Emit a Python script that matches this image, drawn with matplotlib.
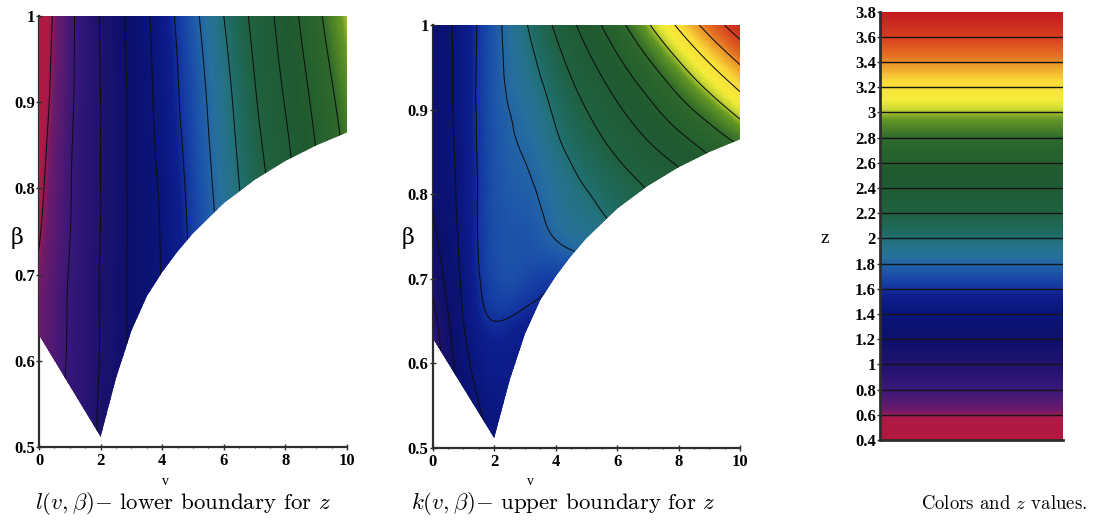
import numpy as np
import matplotlib
matplotlib.use("Agg")
import matplotlib.pyplot as plt
import matplotlib.tri as mtri
from matplotlib.colors import LinearSegmentedColormap, Normalize
from matplotlib.patches import Polygon
from matplotlib.cm import ScalarMappable
from matplotlib.lines import Line2D
from matplotlib.ticker import FuncFormatter, MultipleLocator
from matplotlib.font_manager import FontProperties

plt.rcParams["mathtext.fontset"] = "cm"

# ---------------- data ----------------
v_vals = [0, 1, 2, 3, 4, 5, 6, 7, 8, 9, 10]

# l(v, beta): lower boundary for z
beta_l = [0.5, 0.6, 0.7, 0.8, 0.9, 1.0]
z_lower = [
    [0.68, 0.84, 1.02, 1.23, 1.40, 1.58, 1.77, 1.96, 2.15, 2.35, 2.55],
    [0.66, 0.82, 1.01, 1.23, 1.41, 1.60, 1.80, 2.00, 2.20, 2.42, 2.64],
    [0.62, 0.81, 1.01, 1.23, 1.41, 1.63, 1.83, 2.05, 2.27, 2.50, 2.72],
    [0.56, 0.79, 1.00, 1.23, 1.43, 1.66, 1.88, 2.11, 2.33, 2.57, 2.80],
    [0.51, 0.77, 1.00, 1.235, 1.47, 1.70, 1.93, 2.18, 2.41, 2.65, 2.89],
    [0.47, 0.76, 1.01, 1.25, 1.50, 1.75, 2.00, 2.25, 2.49, 2.75, 3.00],
]

# k(v, beta): upper boundary for z
beta_k = [0.50, 0.55, 0.60, 0.65, 0.70, 0.75, 0.80, 0.85, 0.90, 0.95, 1.00]
z_upper = [
    [0.72, 1.18, 1.38, 1.36, 1.36, 1.42, 1.52, 1.62, 1.72, 1.82, 1.92],
    [0.78, 1.25, 1.46, 1.44, 1.42, 1.45, 1.56, 1.66, 1.76, 1.86, 1.96],
    [0.84, 1.33, 1.52, 1.50, 1.48, 1.50, 1.60, 1.70, 1.80, 1.90, 2.00],
    [0.92, 1.40, 1.60, 1.56, 1.54, 1.56, 1.65, 1.75, 1.85, 1.95, 2.05],
    [1.06, 1.44, 1.68, 1.68, 1.64, 1.70, 1.80, 1.88, 1.96, 2.04, 2.12],
    [1.16, 1.46, 1.70, 1.73, 1.81, 1.89, 1.98, 2.06, 2.14, 2.22, 2.30],
    [1.22, 1.47, 1.71, 1.77, 1.88, 1.99, 2.09, 2.19, 2.29, 2.40, 2.50],
    [1.24, 1.48, 1.72, 1.81, 1.95, 2.09, 2.22, 2.35, 2.48, 2.62, 2.76],
    [1.25, 1.49, 1.73, 1.86, 2.03, 2.20, 2.37, 2.54, 2.72, 2.89, 3.07],
    [1.25, 1.49, 1.74, 1.92, 2.12, 2.33, 2.54, 2.75, 2.96, 3.17, 3.38],
    [1.25, 1.49, 1.74, 1.98, 2.23, 2.48, 2.73, 2.98, 3.23, 3.48, 3.72],
]

# lower edge of the admissible (v, beta) region
bound_v = [0, 2.0, 2.5, 3.0, 3.5, 4.0, 4.5, 5.0, 6.0, 7.0, 8.0, 9.0, 10.0]
bound_beta = [0.63, 0.512, 0.58, 0.635, 0.675, 0.703, 0.727, 0.748, 0.783, 0.81, 0.832, 0.85, 0.865]

contour_levels = [0.6, 0.8, 1.0, 1.2, 1.4, 1.6, 1.8, 2.0, 2.2, 2.4, 2.6, 2.8, 3.0, 3.2, 3.4, 3.6]
cbar_ticks = [0.4, 0.6, 0.8, 1.0, 1.2, 1.4, 1.6, 1.8, 2.0, 2.2, 2.4, 2.6, 2.8, 3.0, 3.2, 3.4, 3.6, 3.8]
x_ticks = [0, 2, 4, 6, 8, 10]
y_ticks = [0.5, 0.6, 0.7, 0.8, 0.9, 1.0]

# colour scale: z value -> colour
cmap_z = [0.40, 0.57, 0.64, 0.72, 0.80, 1.00, 1.20, 1.40, 1.55, 1.63, 1.75, 1.85, 1.95,
          2.05, 2.20, 2.50, 2.80, 2.95, 3.03, 3.10, 3.25, 3.35, 3.45, 3.60, 3.80]
cmap_rgb = [
    (0.70, 0.09, 0.24), (0.68, 0.10, 0.28), (0.42, 0.10, 0.42), (0.32, 0.10, 0.45),
    (0.22, 0.09, 0.47), (0.12, 0.07, 0.43), (0.05, 0.06, 0.42), (0.04, 0.08, 0.48),
    (0.05, 0.12, 0.56), (0.08, 0.23, 0.64), (0.12, 0.35, 0.67), (0.15, 0.44, 0.62),
    (0.14, 0.45, 0.52), (0.12, 0.42, 0.38), (0.12, 0.38, 0.25), (0.12, 0.35, 0.19),
    (0.18, 0.41, 0.17), (0.40, 0.60, 0.14), (0.80, 0.85, 0.20), (0.96, 0.93, 0.22),
    (0.98, 0.86, 0.22), (0.94, 0.66, 0.18), (0.90, 0.45, 0.14), (0.84, 0.24, 0.12),
    (0.76, 0.10, 0.12),
]

# ---------------- figure ----------------
zmin, zmax = cbar_ticks[0], cbar_ticks[-1]
norm = Normalize(zmin, zmax)
cmap = LinearSegmentedColormap.from_list(
    "zcols", [((z - zmin) / (zmax - zmin), c) for z, c in zip(cmap_z, cmap_rgb)], N=512)

W, H = 1093, 529
fig = plt.figure(figsize=(W / 100, H / 100), dpi=100)


def px_axes(x0, x1, ytop, ybot):
    return fig.add_axes([x0 / W, (H - ybot) / H, (x1 - x0) / W, (ybot - ytop) / H])


tick_font = dict(family="Liberation Serif", weight="bold", size=12)
axis_col = "#2e2e2e"
fmt = FuncFormatter(lambda x, p: f"{x:g}")


def surface_panel(ax, betas, zrows, xlab_x, ylab_x, ylab_y):
    V, B = np.meshgrid(np.array(v_vals, float), np.array(betas, float))
    Z = np.array(zrows, float)
    tri = mtri.Triangulation(V.ravel(), B.ravel())
    refiner = mtri.UniformTriRefiner(tri)
    interp = mtri.CubicTriInterpolator(tri, Z.ravel(), kind="min_E")
    tri_f, z_f = refiner.refine_field(Z.ravel(), triinterpolator=interp, subdiv=4)

    verts = [(v_vals[-1], y_ticks[-1]), (v_vals[0], y_ticks[-1])] + list(zip(bound_v, bound_beta))
    clip = Polygon(verts, closed=True, transform=ax.transData, facecolor="none", edgecolor="none")
    ax.add_patch(clip)

    pc = ax.tripcolor(tri_f, z_f, cmap=cmap, norm=norm, shading="gouraud", zorder=1)
    pc.set_clip_path(clip)
    cs = ax.tricontour(tri_f, z_f, levels=contour_levels, colors="#101010",
                       linewidths=0.75, zorder=2)
    cs.set_clip_path(clip)

    ax.set_xlim(v_vals[0], v_vals[-1])
    ax.set_ylim(y_ticks[0], y_ticks[-1])
    for s in ("top", "right"):
        ax.spines[s].set_visible(False)
    for s in ("left", "bottom"):
        ax.spines[s].set_color(axis_col)
        ax.spines[s].set_linewidth(1.6)
        ax.spines[s].set_zorder(0.5)
    ax.set_xticks(x_ticks)
    ax.set_yticks(y_ticks)
    ax.xaxis.set_minor_locator(MultipleLocator(0.5))
    ax.xaxis.set_major_formatter(fmt)
    ax.yaxis.set_major_formatter(fmt)
    ax.tick_params(axis="both", which="major", direction="inout", length=4, width=1,
                   color=axis_col, pad=1)
    ax.tick_params(axis="x", which="major", pad=2)
    ax.tick_params(axis="x", which="minor", direction="inout", length=2, width=0.8, color=axis_col)
    for lab in ax.get_xticklabels() + ax.get_yticklabels():
        lab.set_fontproperties(FontProperties(**tick_font))
    ax.set_xlabel("v", family="Liberation Serif", fontsize=10)
    ax.xaxis.set_label_coords(xlab_x, -0.064)
    ax.set_ylabel("β", family="DejaVu Serif", fontsize=16, rotation=0)
    ax.yaxis.set_label_coords(ylab_x, ylab_y)
    ax.set_facecolor("none")


ax1 = px_axes(39, 347, 16, 447)
surface_panel(ax1, beta_l, z_lower, 0.41, -0.07, 0.46)

ax2 = px_axes(432.7, 740, 25, 448)
surface_panel(ax2, beta_k, z_upper, 0.317, -0.08, 0.47)

# ---------------- colour key ----------------
ax3 = px_axes(880, 1063, 11.7, 440)
cb = fig.colorbar(ScalarMappable(norm=norm, cmap=cmap), cax=ax3, orientation="vertical")
cb.outline.set_visible(False)
cb.set_ticks(cbar_ticks)
cb.ax.yaxis.set_ticks_position("left")
cb.ax.yaxis.set_label_position("left")
cb.ax.yaxis.set_major_formatter(fmt)
cb.ax.tick_params(axis="y", direction="out", length=2, width=1, color=axis_col, pad=1)
for lab in cb.ax.get_yticklabels():
    lab.set_fontproperties(FontProperties(**tick_font))
cb.add_lines(contour_levels, colors=["#151515"] * len(contour_levels),
             linewidths=[1.0] * len(contour_levels))
cb.ax.add_line(Line2D([0, 0], [0, 1], transform=cb.ax.transAxes, color=axis_col, lw=2.0,
                      clip_on=False))
cb.ax.add_line(Line2D([0, 1], [0, 0], transform=cb.ax.transAxes, color=axis_col, lw=2.0,
                      clip_on=False))
cb.ax.set_ylabel("z", family="Liberation Serif", fontsize=14, rotation=0)
cb.ax.yaxis.set_label_coords(-0.30, 0.45)

# ---------------- captions ----------------
cap_kw = dict(family="cmr10", ha="center", va="baseline")
fig.text(183 / W, (H - 509) / H, r"$l(v,\beta){-}$ lower boundary for $z$", fontsize=16.5, **cap_kw)
fig.text(563 / W, (H - 509) / H, r"$k(v,\beta){-}$ upper boundary for $z$", fontsize=16.5, **cap_kw)
fig.text(1004 / W, (H - 509) / H, r"Colors and $z$ values.", fontsize=13.5, **cap_kw)

fig.savefig("out.png", dpi=100)
